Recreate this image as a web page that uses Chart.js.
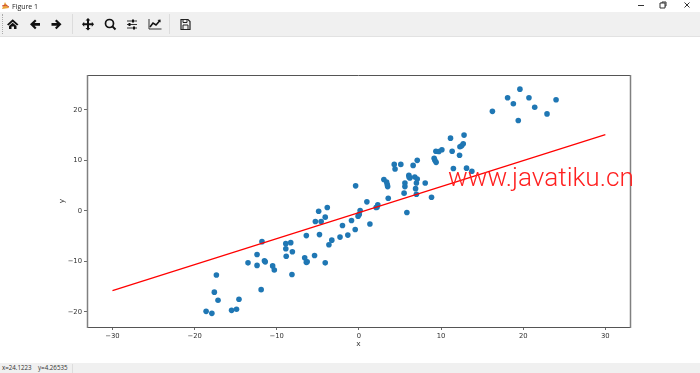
<!DOCTYPE html>
<html><head><meta charset="utf-8">
<script src="https://cdn.jsdelivr.net/npm/chart.js@4"></script>
<style>
html,body{margin:0;padding:0;background:#fff;width:700px;height:373px;overflow:hidden}
#wrap{position:relative;width:700px;height:373px;font-family:"Open Sans",sans-serif}
canvas{position:absolute;left:0;top:0}
.t{position:absolute;white-space:nowrap}
#toolbar{position:absolute;left:0;top:12px;width:700px;height:24px;background:#f0f0f0;border-bottom:1px solid #e2e2e2}
#status{position:absolute;left:0;top:363px;width:700px;height:10px;background:#f0f0f0}
svg{position:absolute;overflow:visible}
.sep{position:absolute;top:14px;width:1px;height:20px;background:#dcdcdc}
</style></head><body>
<div id="wrap">
<canvas id="c" width="700" height="373"></canvas>
<div class="t" style="left:12px;top:1px;font-size:7px;line-height:11px;color:#222">Figure 1</div>
<svg style="left:1px;top:1px" width="9" height="9" viewBox="0 0 9 9"><path d="M1 8 L4 1 L5 3 L8 7 Z" fill="#e8a33a"/><path d="M1 5 L5 4 L8 6" stroke="#c43" fill="none"/></svg>
<svg style="left:636px;top:0" width="60" height="12" viewBox="0 0 60 12" fill="none" stroke="#333" stroke-width="1">
<path d="M2 5.5H8"/><path d="M24 3h5v5h-5zM26 3V2h4v4h-1"/><path d="M48.5 2.5l5 5M53.5 2.5l-5 5"/></svg>
<div id="toolbar"></div>
<div class="sep" style="left:72px"></div><div class="sep" style="left:169px"></div>
<div style="position:absolute;left:2px;top:14px;height:20px;border-left:1px dotted #aaa"></div>
<svg style="left:0;top:0" width="200" height="36" viewBox="0 0 200 36">
<path d="M7 24.5 L12.7 19.3 L18.5 24.5 L17 25.5 L12.7 21.8 L8.5 25.5Z M9 26 L12.7 22.8 L16.5 26 V29 H14 V26.5 H11.5 V29 H9Z" fill="#111"/>
<path d="M30 24.3 L35 19.5 L36.5 21 L34.5 23 H40 V25.7 H34.5 L36.5 27.7 L35 29.2Z" fill="#111"/>
<path d="M61.5 24.3 L56.5 19.5 L55 21 L57 23 H51.5 V25.7 H57 L55 27.7 L56.5 29.2Z" fill="#111"/>
<path d="M88 18 L90.5 20.5 H89 V23.3 H91.8 V21.8 L94 24.3 L91.8 26.8 V25.3 H89 V28 H90.5 L88 30.5 L85.5 28 H87 V25.3 H84.2 V26.8 L82 24.3 L84.2 21.8 V23.3 H87 V20.5 H85.5Z" fill="#111"/>
<circle cx="109.5" cy="23.5" r="4" fill="none" stroke="#111" stroke-width="1.7"/><path d="M112.4 26.4 L115.5 29.5" stroke="#111" stroke-width="2"/>
<path d="M127 21h10M127 24.5h10M127 28h10" stroke="#333" stroke-width="1"/><path d="M133 19.5v3M129.5 23v3M134 26.5v3" stroke="#111" stroke-width="2"/>
<path d="M149 19v10h12.5" fill="none" stroke="#333" stroke-width="1"/><path d="M150 27 L153 23 L156 25 L160 20.5" fill="none" stroke="#111" stroke-width="1.6"/><path d="M157.5 20 L160.5 19.5 V22.5Z" fill="#111"/>
<path d="M181 19.5h7l2 2v8h-9z" fill="none" stroke="#222" stroke-width="1.2"/><path d="M183 19.5h4v3h-4zM183 25h5v4.5h-5z" fill="none" stroke="#222" stroke-width="1"/>
</svg>
<div id="status"></div>
<div class="t" style="left:2px;top:363px;font-size:6.2px;line-height:10px;color:#333">x=24.1223</div>
<div class="t" style="left:38px;top:363px;font-size:6.2px;line-height:10px;color:#333">y=4.26535</div>
<div style="position:absolute;left:72px;top:364px;height:9px;border-left:1px solid #ddd"></div>
<div class="t" id="mark" style="left:448px;top:159px;font-family:Roboto,sans-serif;font-size:26.2px;line-height:36px;color:#ff2020;font-weight:300">www.javatiku.cn</div>
</div>
<script>
const scatterX=[-18.6,-17.9,-17.6,-17.15,-17.35,-15.5,-14.9,-14.6,-13.5,-12.4,-12.4,-11.9,-11.8,-11.5,-11.4,-10.5,-10.3,-8.9,-8.9,-8.85,-8.3,-8.1,-8.15,-6.6,-6.4,-6.3,-6.4,-5.4,-5.3,-4.9,-4.6,-4.1,-3.85,-4.8,-4.1,-3.65,-3.3,-2.3,-2.0,-1.35,-0.9,-0.45,-0.1,0.15,-0.4,1.34,0.04,0.97,2.1,2.2,2.3,3.57,3.04,3.37,3.5,3.45,4.3,4.4,5.1,5.6,5.6,5.5,5.84,6.08,6.1,6.2,6.6,7.1,6.8,7.1,7.0,6.9,7.0,8.07,8.84,9.16,9.25,9.4,9.37,9.73,10.1,11.35,11.15,12.25,12.3,12.5,12.7,12.8,11.5,13.1,13.75,16.25,18.1,18.8,19.6,19.4,20.7,21.4,22.9,24.0];
const scatterY=[-19.9,-20.3,-16.1,-17.7,-12.7,-19.7,-19.5,-17.5,-10.3,-8.65,-10.8,-15.6,-6.1,-9.9,-10.1,-10.9,-11.7,-6.5,-7.5,-9.0,-6.3,-8.1,-12.6,-9.3,-10.2,-10.1,-4.9,-8.85,-2.1,-0.07,-2.1,-1.25,0.66,-4.7,-10.3,-6.7,-5.8,-5.2,-2.9,-4.8,-1.9,-3.7,-1.05,0.07,4.95,-2.6,-0.7,1.78,0.66,0.7,1.2,2.5,6.2,5.7,4.8,5.2,9.2,8.3,9.2,5.5,4.8,3.5,-0.33,7.06,6.7,6.5,9.0,10.0,6.7,6.3,5.5,4.4,3.3,5.5,2.7,10.4,10.0,9.6,11.8,11.75,12.1,11.8,14.4,11.0,12.7,12.9,13.3,15.0,8.4,8.45,7.85,19.7,22.4,21.2,24.1,17.9,22.4,20.5,19.2,22.0];
const lineX=[-30,30];
const lineY=[-15.8,15.1];
const xTicks=[-30,-20,-10,0,10,20,30];
const yTicks=[-20,-10,0,10,20];
const xLabel='x', yLabel='y';

const box={id:'box',afterDatasetsDraw(c){const a=c.chartArea,g=c.ctx;g.save();
 g.strokeStyle='#555';g.lineWidth=1;
 g.beginPath();g.moveTo(a.left,a.top+.5);g.lineTo(a.right,a.top+.5);g.moveTo(a.left,a.bottom+.5);g.lineTo(a.right,a.bottom+.5);g.stroke();
 g.strokeStyle='#808080';g.lineWidth=1.5;
 g.beginPath();g.moveTo(a.left+.5,a.top);g.lineTo(a.left+.5,a.bottom+1);g.moveTo(a.right+.5,a.top);g.lineTo(a.right+.5,a.bottom+1);g.stroke();
 g.restore();}};
const minus=v=>String(v).replace('-','\u2212');
const fnt={family:'"DejaVu Sans"',size:6.8};
const titleFnt={family:'"DejaVu Sans"',size:7.4};
new Chart(document.getElementById('c'),{
 data:{datasets:[
  {type:'scatter',data:scatterX.map((x,i)=>({x,y:scatterY[i]})),backgroundColor:'#1f77b4',borderColor:'#1f77b4',borderWidth:0,pointRadius:2.8,pointHoverRadius:2.8,order:2},
  {type:'line',data:lineX.map((x,i)=>({x,y:lineY[i]})),borderColor:'#ff0000',borderWidth:1.2,pointRadius:0,tension:0,order:1}
 ]},
 plugins:[box],
 options:{responsive:false,animation:false,events:[],
  layout:{padding:{left:55,right:70,top:75,bottom:24}},
  plugins:{legend:{display:false},tooltip:{enabled:false},title:{display:false}},
  scales:{
   x:{type:'linear',min:-33.1,max:33,afterBuildTicks(s){s.ticks=xTicks.map(value=>({value}));},
    afterFit(s){s.height=22;},
    grid:{drawOnChartArea:false,color:'#444',tickLength:3,tickWidth:.8},border:{display:false},
    ticks:{font:fnt,color:'#333',maxRotation:0,autoSkip:false,padding:2,callback:minus},
    title:{display:true,text:xLabel,font:titleFnt,color:'#333',padding:{top:4,bottom:0}}},
   y:{type:'linear',min:-23,max:26.9,afterBuildTicks(s){s.ticks=yTicks.map(value=>({value}));},
    afterFit(s){s.width=32;},
    grid:{drawOnChartArea:false,color:'#444',tickLength:3,tickWidth:.8},border:{display:false},
    ticks:{font:fnt,color:'#333',autoSkip:false,padding:2,callback:minus},
    title:{display:true,text:yLabel,font:titleFnt,color:'#333',padding:{top:2.5,bottom:3}}}
  }}
});
</script>
</body></html>
